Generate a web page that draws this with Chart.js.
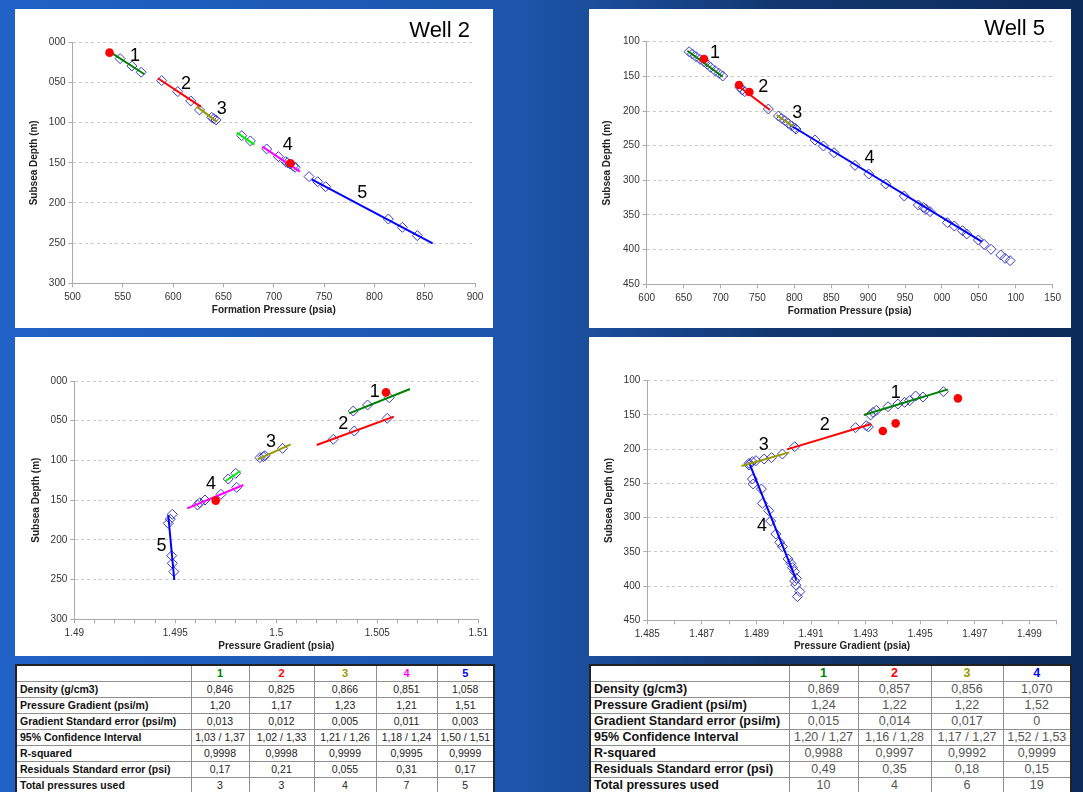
<!DOCTYPE html>
<html>
<head>
<meta charset="utf-8">
<script src="https://cdn.jsdelivr.net/npm/chart.js@4.4.0/dist/chart.umd.min.js"></script>
<style>
  html, body { margin: 0; padding: 0; }
  body {
    width: 1083px; height: 792px; overflow: hidden; position: relative;
    background: linear-gradient(90deg, #2062c6 0%, #1c55aa 48%, #1a4c98 56%, #12376f 72%, #0c2a5a 100%);
    font-family: Arial, "Liberation Sans", sans-serif;
  }
  .panel { position: absolute; background: #fff; }
  .panel canvas { position: absolute; left: 0; top: 0; }
  .well { position: absolute; font-size: 22px; line-height: 22px; color: #000; text-align: right; }
  table.stats {
    position: absolute; border-collapse: collapse; table-layout: fixed;
    background: #fff; border: 2px solid #222;
  }
  table.stats td {
    border: 1px solid #8f8f8f; height: 15px; padding: 0; line-height: 15px;
    text-align: center; white-space: nowrap; overflow: hidden;
  }
  #tab2 td { font-size: 10.5px; color: #222; }
  #tab2 td.lab { text-align: left; padding-left: 3px; font-weight: bold; color: #111; }
  #tab2 td.head { font-size: 11px; font-weight: bold; }
  #tab5 td { font-size: 12.5px; color: #555; }
  #tab5 td.lab { text-align: left; padding-left: 3px; font-weight: bold; color: #111; }
  #tab5 td.head { font-size: 12.5px; font-weight: bold; }
</style>
</head>
<body>

<div class="panel" style="left:15px;top:9px;width:478px;height:319px;">
  <canvas id="w2press" width="478" height="319"></canvas>
  <div class="well" style="right:23px;top:10px;">Well 2</div>
</div>
<div class="panel" style="left:589px;top:9px;width:482px;height:319px;">
  <canvas id="w5press" width="482" height="319"></canvas>
  <div class="well" style="right:26px;top:8px;">Well 5</div>
</div>
<div class="panel" style="left:15px;top:337px;width:478px;height:319px;">
  <canvas id="w2grad" width="478" height="319"></canvas>
</div>
<div class="panel" style="left:589px;top:337px;width:482px;height:319px;">
  <canvas id="w5grad" width="482" height="319"></canvas>
</div>

<table id="tab2" class="stats" style="left:15px;top:664px;width:478px;">
  <colgroup><col style="width:175px"><col style="width:58px"><col style="width:65px"><col style="width:62px"><col style="width:61px"><col style="width:57px"></colgroup>
  <tbody></tbody>
</table>
<table id="tab5" class="stats" style="left:589px;top:664px;width:481px;">
  <colgroup><col style="width:199px"><col style="width:69px"><col style="width:73px"><col style="width:72px"><col style="width:68px"></colgroup>
  <tbody></tbody>
</table>

<script>
// ---- Well 2, formation pressure (psia) vs subsea depth (m) ----
var w2p1 = [[547.3, 20.3], [559.0, 29.5], [568.2, 37.3]];
var w2p1Line = [[534.1, 9.5], [571.5, 39.8]];
var w2p1Out = [[536.8, 12.9]];
var w2p2 = [[588.7, 47.7], [604.6, 61.4], [617.5, 73.0]];
var w2p2Line = [[584.8, 44.8], [627.5, 80.1]];
var w2p3 = [[626.2, 84.2], [638.4, 93.4], [640.5, 95.0], [642.7, 96.7]];
var w2p3Line = [[623.5, 80.1], [643.4, 98.8]];
var w2pX = [[668.2, 116.2], [676.8, 122.8]];
var w2pXLine = [[663.2, 112.5], [680.8, 127.4]];
var w2p4 = [[693.0, 132.8], [704.6, 142.3], [711.9, 148.6], [713.5, 150.0], [716.2, 151.5], [719.5, 154.0], [721.2, 155.6]];
var w2p4Line = [[688.7, 129.9], [726.1, 161.0]];
var w2p4Out = [[716.5, 150.6]];
var w2p5 = [[735.1, 167.2], [743.7, 173.5], [751.6, 179.7], [813.9, 220.0], [827.8, 230.3], [842.7, 240.7]];
var w2p5Line = [[737.7, 170.6], [857.9, 250.2]];
var w2pLabels = [[562.2, 17, '1'], [612.9, 51.9, '2'], [648.3, 83.4, '3'], [713.9, 127.8, '4'], [788, 187.2, '5']];

// ---- Well 5, formation pressure ----
var w5p1 = [[657.4, 114.4], [661.9, 117.8], [666.8, 121.6], [672.3, 125.5], [677.7, 128.8], [682.2, 132.7], [686.7, 137.0], [692.6, 141.8], [698.0, 145.7], [703.0, 149.5]];
var w5p1Line = [[655.1, 113.0], [703.0, 150.5]];
var w5p1Out = [[677.7, 125.0]];
var w5p2 = [[726.0, 165.5], [729.5, 169.5], [733.0, 172.0], [764.8, 197.1]];
var w5p2Line = [[724.2, 163.9], [767.1, 198.6]];
var w5p2Out = [[725.1, 162.5], [739.1, 172.6]];
var w5p3 = [[778.4, 207.2], [782.9, 210.6], [787.4, 213.9], [791.9, 217.8], [796.4, 221.6], [800.5, 224.5]];
var w5p3Line = [[776.1, 205.8], [798.7, 222.6]];
var w5p4 = [[802.3, 226.0], [828.1, 241.8], [839.4, 250.5], [853.8, 260.1], [882.2, 278.4], [900.8, 290.9], [923.8, 305.3], [948.9, 322.6], [968.0, 335.6], [974.8, 339.0], [978.4, 341.8], [983.9, 345.2], [1007.3, 361.1], [1016.8, 365.9], [1027.7, 372.6], [1033.5, 377.4], [1049.3, 386.1], [1057.0, 392.3], [1066.5, 399.5], [1079.6, 407.7], [1085.5, 412.5], [1092.3, 415.9]];
var w5p4Line = [[794.2, 220.2], [1053.9, 388.5]];
var w5pLabels = [[692.6, 116.8, '1'], [758, 165.9, '2'], [804.1, 203.4, '3'], [901.7, 268.3, '4']];

// ---- Well 2, pressure gradient ----
var w2g1 = [[1.50381, 37.8], [1.50452, 30.2], [1.50559, 21.0]];
var w2g1Line = [[1.50361, 40.7], [1.50662, 10.1]];
var w2g1Out = [[1.50543, 14.3]];
var w2g2 = [[1.50282, 73.4], [1.50386, 62.9], [1.50549, 47.0]];
var w2g2Line = [[1.50200, 80.6], [1.50582, 44.9]];
var w2g3 = [[1.49919, 96.5], [1.49936, 95.2], [1.49944, 94.0], [1.50031, 84.8]];
var w2g3Line = [[1.49908, 98.6], [1.50071, 79.7]];
var w2gX = [[1.49762, 123.4], [1.49799, 116.2]];
var w2gXLine = [[1.49749, 125.9], [1.49822, 113.3]];
var w2g4 = [[1.49610, 156.1], [1.49621, 153.2], [1.49647, 149.8], [1.49726, 142.7], [1.49804, 133.9]];
var w2g4Line = [[1.49559, 160.3], [1.49837, 130.9]];
var w2g4Out = [[1.49700, 150.6]];
var w2g5 = [[1.49485, 167.8], [1.49475, 174.0], [1.49465, 179.2], [1.49482, 219.9], [1.49485, 229.5], [1.49493, 240.0]];
var w2g5Line = [[1.49465, 168.7], [1.49495, 250.5]];
var w2gLabels = [[1.50488, 13.4, '1'], [1.50332, 54.5, '2'], [1.49974, 77.2, '3'], [1.49677, 129.7, '4'], [1.49432, 207.3, '5']];

// ---- Well 5, pressure gradient ----
var w5g1 = [[1.49318, 150.1], [1.49327, 146.2], [1.49339, 143.3], [1.49382, 138.0], [1.49418, 134.1], [1.49443, 131.6], [1.49461, 129.2], [1.49483, 122.4], [1.49510, 123.9], [1.49585, 116.1]];
var w5g1Line = [[1.49293, 150.1], [1.49601, 112.7]];
var w5g1Out = [[1.49638, 125.8]];
var w5g2 = [[1.49263, 168.6], [1.49302, 165.7], [1.49310, 167.5], [1.49040, 196.4]];
var w5g2Line = [[1.49012, 200.3], [1.49321, 163.3]];
var w5g2Out = [[1.49363, 173.5], [1.49410, 162.3]];
var w5g3 = [[1.48873, 220.7], [1.48885, 218.3], [1.48898, 216.8], [1.48928, 214.4], [1.48955, 212.4], [1.48995, 207.1]];
var w5g3Line = [[1.48845, 224.6], [1.49020, 204.7]];
var w5g4 = [[1.48873, 223.2], [1.48885, 243.6], [1.48888, 250.9], [1.48918, 258.2], [1.48922, 279.1], [1.48945, 289.8], [1.48952, 304.9], [1.48971, 323.9], [1.48985, 336.1], [1.48995, 342.4], [1.49016, 360.4], [1.49026, 366.8], [1.49032, 373.1], [1.49040, 378.9], [1.49046, 388.7], [1.49040, 392.6], [1.49044, 398.4], [1.49059, 408.1], [1.49050, 415.4]];
var w5g4Line = [[1.48873, 219.7], [1.49046, 391.1]];
var w5gLabels = [[1.4941, 118.5, '1'], [1.4915, 164.7, '2'], [1.48927, 194, '3'], [1.4892, 312.2, '4']];

// ---- tables ----
var rowLabels = ['Density (g/cm3)', 'Pressure Gradient (psi/m)', 'Gradient Standard error (psi/m)', '95% Confidence Interval', 'R-squared', 'Residuals Standard error (psi)', 'Total pressures used'];
var w2Heads = ['1', '2', '3', '4', '5'];
var w2Density = ['0,846', '0,825', '0,866', '0,851', '1,058'];
var w2Gradient = ['1,20', '1,17', '1,23', '1,21', '1,51'];
var w2GradErr = ['0,013', '0,012', '0,005', '0,011', '0,003'];
var w2Conf = ['1,03 / 1,37', '1,02 / 1,33', '1,21 / 1,26', '1,18 / 1,24', '1,50 / 1,51'];
var w2R2 = ['0,9998', '0,9998', '0,9999', '0,9995', '0,9999'];
var w2Resid = ['0,17', '0,21', '0,055', '0,31', '0,17'];
var w2Total = ['3', '3', '4', '7', '5'];
var w5Heads = ['1', '2', '3', '4'];
var w5Density = ['0,869', '0,857', '0,856', '1,070'];
var w5Gradient = ['1,24', '1,22', '1,22', '1,52'];
var w5GradErr = ['0,015', '0,014', '0,017', '0'];
var w5Conf = ['1,20 / 1,27', '1,16 / 1,28', '1,17 / 1,27', '1,52 / 1,53'];
var w5R2 = ['0,9988', '0,9997', '0,9992', '0,9999'];
var w5Resid = ['0,49', '0,35', '0,18', '0,15'];
var w5Total = ['10', '4', '6', '19'];

var green = '#008000', red = '#ff0000', olive = '#999900', pink = '#ff00ff', blue = '#0000ff', lime = '#00ee00';
var w2HeadColors = [green, red, olive, pink, blue];
var w5HeadColors = [green, red, olive, blue];

Chart.defaults.font.family = 'Arial, "Liberation Sans", sans-serif';

function pts(a) {
  return a.map(function (p) { return { x: p[0], y: p[1] }; });
}
function lineSet(a, color) {
  return { data: pts(a), showLine: true, borderColor: color, borderWidth: 2, pointRadius: 0, fill: false };
}
function diamondSet(a) {
  return { data: pts(a), showLine: false, pointStyle: 'rectRot', pointRadius: 5,
    borderColor: '#3a3ac4', backgroundColor: 'rgba(255,255,255,0)', borderWidth: 1 };
}
function dotSet(a) {
  return { data: pts(a), showLine: false, pointStyle: 'circle', pointRadius: 4.3,
    borderColor: red, backgroundColor: red, borderWidth: 0 };
}

// the "1", "2"... numbers next to each fitted segment
var segLabels = {
  id: 'segLabels',
  afterDatasetsDraw: function (chart, args, opts) {
    var ctx = chart.ctx, xs = chart.scales.x, ys = chart.scales.y;
    ctx.save();
    ctx.font = '18px Arial, "Liberation Sans", sans-serif';
    ctx.fillStyle = '#000';
    ctx.textAlign = 'center';
    ctx.textBaseline = 'middle';
    opts.labels.forEach(function (l) {
      ctx.fillText(l[2], xs.getPixelForValue(l[0]), ys.getPixelForValue(l[1]));
    });
    ctx.restore();
  }
};

function depthLabel(v) { return String(Math.round(v) % 1000).padStart(3, '0'); }

function makeOptions(o) {
  return {
    responsive: false,
    animation: false,
    layout: { padding: { left: 8, right: o.right, top: o.top, bottom: 0 }, autoPadding: false },
    plugins: { legend: { display: false }, tooltip: { enabled: false }, segLabels: { labels: o.labels } },
    scales: {
      x: {
        type: 'linear', min: o.xmin, max: o.xmax,
        ticks: { stepSize: o.xstep, autoSkip: false, maxRotation: 0, minRotation: 0, padding: 4,
          color: '#333', font: { size: 10 }, callback: o.xfmt },
        grid: { drawOnChartArea: false, tickLength: 4, color: '#aaa' },
        border: { color: '#aaa' },
        title: { display: true, text: o.xtitle, color: '#222', font: { size: 10, weight: 'bold' },
          padding: { top: 0, bottom: o.xtb } },
        afterFit: function (s) { s.height = o.xh; }
      },
      y: {
        type: 'linear', reverse: true, min: o.ymin, max: o.ymax,
        ticks: { stepSize: 50, padding: 3, color: '#333', font: { size: 10 }, callback: depthLabel },
        grid: { color: '#c8c8c8', tickLength: 4, tickColor: '#aaa' },
        border: { color: '#aaa', dash: [3, 3] },
        title: { display: true, text: 'Subsea Depth (m)', color: '#222', font: { size: 10, weight: 'bold' },
          padding: { top: o.ytp, bottom: 0 } },
        afterFit: function (s) { s.width = o.yw; }
      }
    }
  };
}

new Chart(document.getElementById('w2press'), {
  type: 'scatter',
  plugins: [segLabels],
  data: {
    datasets: [
      dotSet(w2p1Out), dotSet(w2p4Out),
      lineSet(w2p1Line, green), lineSet(w2p2Line, red), lineSet(w2p3Line, olive),
      lineSet(w2pXLine, lime), lineSet(w2p4Line, pink), lineSet(w2p5Line, blue),
      diamondSet(w2p1), diamondSet(w2p2), diamondSet(w2p3), diamondSet(w2pX), diamondSet(w2p4), diamondSet(w2p5)
    ]
  },
  options: makeOptions({
    xmin: 500, xmax: 900, xstep: 50, xfmt: depthLabel, xtitle: 'Formation Pressure (psia)',
    ymin: 0, ymax: 300, right: 18, top: 33.3, xh: 44.7, xtb: 11.3, yw: 49.5, ytp: 5, labels: w2pLabels
  })
});

new Chart(document.getElementById('w5press'), {
  type: 'scatter',
  plugins: [segLabels],
  data: {
    datasets: [
      dotSet(w5p1Out), dotSet(w5p2Out),
      lineSet(w5p1Line, green), lineSet(w5p2Line, red), lineSet(w5p3Line, olive), lineSet(w5p4Line, blue),
      diamondSet(w5p1), diamondSet(w5p2), diamondSet(w5p3), diamondSet(w5p4)
    ]
  },
  options: makeOptions({
    xmin: 600, xmax: 1150, xstep: 50, xfmt: depthLabel, xtitle: 'Formation Pressure (psia)',
    ymin: 100, ymax: 450, right: 18.3, top: 32.7, xh: 43.7, xtb: 11, yw: 49.7, ytp: 4.5, labels: w5pLabels
  })
});

new Chart(document.getElementById('w2grad'), {
  type: 'scatter',
  plugins: [segLabels],
  data: {
    datasets: [
      dotSet(w2g1Out), dotSet(w2g4Out),
      lineSet(w2g1Line, green), lineSet(w2g2Line, red), lineSet(w2g3Line, olive),
      lineSet(w2gXLine, lime), lineSet(w2g4Line, pink), lineSet(w2g5Line, blue),
      diamondSet(w2g1), diamondSet(w2g2), diamondSet(w2g3), diamondSet(w2gX), diamondSet(w2g4), diamondSet(w2g5)
    ]
  },
  options: makeOptions({
    xmin: 1.49, xmax: 1.51, xstep: 0.001, xtitle: 'Pressure Gradient (psia)',
    xfmt: function (v) { var k = Math.round(v * 1000); return k % 5 === 0 ? String(k / 1000) : ''; },
    ymin: 0, ymax: 300, right: 14.7, top: 44, xh: 36.7, xtb: 4, yw: 51.3, ytp: 6.8, labels: w2gLabels
  })
});

new Chart(document.getElementById('w5grad'), {
  type: 'scatter',
  plugins: [segLabels],
  data: {
    datasets: [
      dotSet(w5g1Out), dotSet(w5g2Out),
      lineSet(w5g1Line, green), lineSet(w5g2Line, red), lineSet(w5g3Line, olive), lineSet(w5g4Line, blue),
      diamondSet(w5g1), diamondSet(w5g2), diamondSet(w5g3), diamondSet(w5g4)
    ]
  },
  options: makeOptions({
    xmin: 1.485, xmax: 1.5, xstep: 0.001, xtitle: 'Pressure Gradient (psia)',
    xfmt: function (v) { var k = Math.round(v * 1000); return k % 2 === 1 ? (k / 1000).toFixed(3) : ''; },
    ymin: 100, ymax: 450, right: 14.3, top: 43.7, xh: 35.7, xtb: 3.3, yw: 50.3, ytp: 6.5, labels: w5gLabels
  })
});

function fillTable(id, heads, colors, rows) {
  var body = document.querySelector('#' + id + ' tbody');
  var html = '<tr><td></td>';
  heads.forEach(function (h, i) {
    html += '<td class="head" style="color:' + colors[i] + '">' + h + '</td>';
  });
  html += '</tr>';
  rows.forEach(function (r, i) {
    html += '<tr><td class="lab">' + rowLabels[i] + '</td>';
    r.forEach(function (v) { html += '<td>' + v + '</td>'; });
    html += '</tr>';
  });
  body.innerHTML = html;
}

fillTable('tab2', w2Heads, w2HeadColors, [w2Density, w2Gradient, w2GradErr, w2Conf, w2R2, w2Resid, w2Total]);
fillTable('tab5', w5Heads, w5HeadColors, [w5Density, w5Gradient, w5GradErr, w5Conf, w5R2, w5Resid, w5Total]);
</script>
</body>
</html>
